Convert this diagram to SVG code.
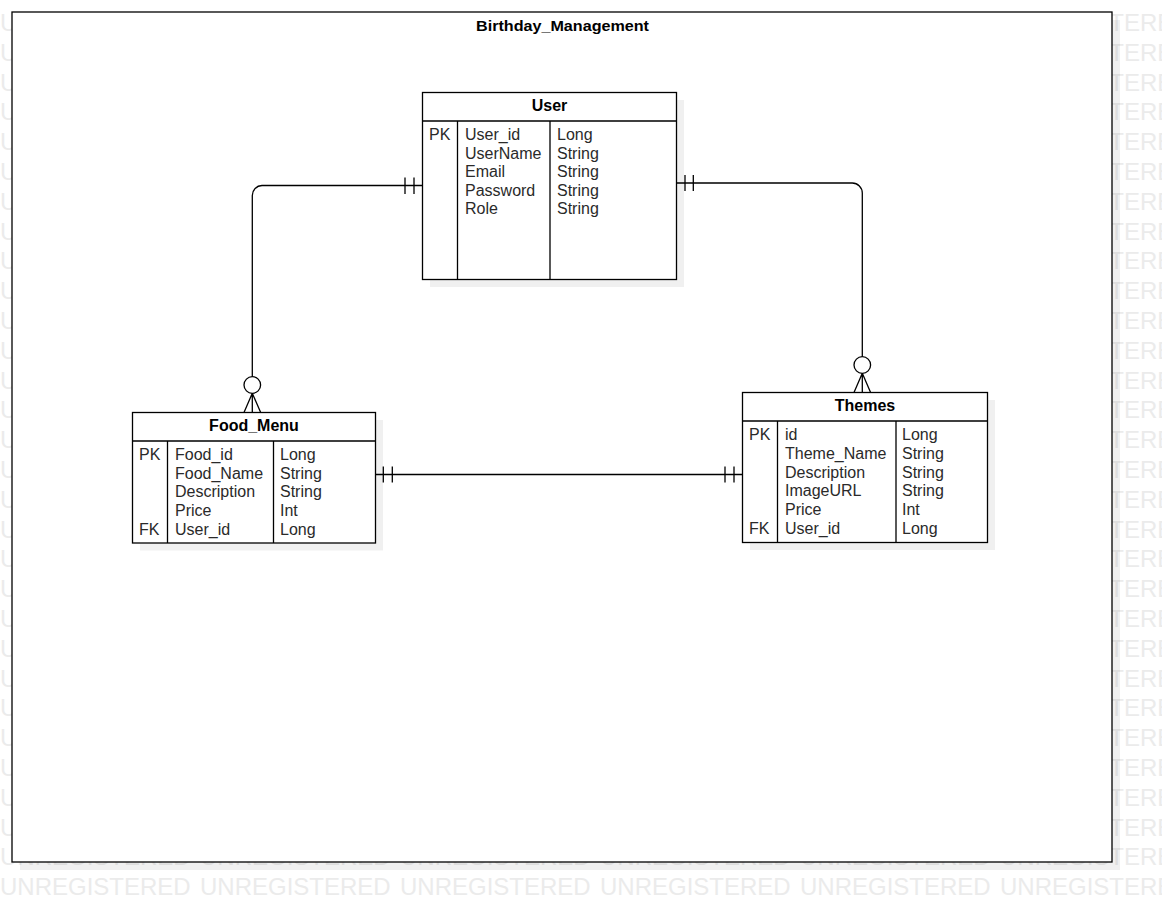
<svg xmlns="http://www.w3.org/2000/svg" xmlns:xlink="http://www.w3.org/1999/xlink" width="1162" height="912" viewBox="0 0 1162 912">
<style>
.wm{font-family:"Liberation Sans",Arial,sans-serif;font-size:24px;fill:#ebebeb}
.shadow{fill:#000;fill-opacity:0.06}
.box{fill:#fff;stroke:#000;stroke-width:1.3}
.ln{stroke:#000;stroke-width:1.3;fill:none}
.hd{font-family:"Liberation Sans",Arial,sans-serif;font-size:16px;font-weight:bold;fill:#000;text-anchor:middle}
.title{font-family:"Liberation Sans",Arial,sans-serif;font-size:14px;font-weight:bold;fill:#000}
.at{font-family:"Liberation Sans",Arial,sans-serif;font-size:16px;fill:#2a2a2a}
.conn{stroke:#000;stroke-width:1.3;fill:none}
.end{stroke:#000;stroke-width:1.3;fill:#fff}
</style>
<defs>
<g id="wmrow"><text class="wm"><tspan x="0">UNREGISTERED</tspan><tspan x="200">UNREGISTERED</tspan><tspan x="400">UNREGISTERED</tspan><tspan x="600">UNREGISTERED</tspan><tspan x="800">UNREGISTERED</tspan><tspan x="1000">UNREGISTERED</tspan></text></g>
</defs>
<rect x="0" y="0" width="1162" height="912" fill="#fff"/>
<g id="watermark">
<use href="#wmrow" y="31"/><use href="#wmrow" y="60.8"/><use href="#wmrow" y="90.6"/><use href="#wmrow" y="120.4"/><use href="#wmrow" y="150.2"/><use href="#wmrow" y="180"/><use href="#wmrow" y="209.8"/><use href="#wmrow" y="239.6"/><use href="#wmrow" y="269.4"/><use href="#wmrow" y="299.2"/><use href="#wmrow" y="329"/><use href="#wmrow" y="358.8"/><use href="#wmrow" y="388.6"/><use href="#wmrow" y="418.4"/><use href="#wmrow" y="448.2"/><use href="#wmrow" y="478"/><use href="#wmrow" y="507.8"/><use href="#wmrow" y="537.6"/><use href="#wmrow" y="567.4"/><use href="#wmrow" y="597.2"/><use href="#wmrow" y="627"/><use href="#wmrow" y="656.8"/><use href="#wmrow" y="686.6"/><use href="#wmrow" y="716.4"/><use href="#wmrow" y="746.2"/><use href="#wmrow" y="776"/><use href="#wmrow" y="805.8"/><use href="#wmrow" y="835.6"/><use href="#wmrow" y="865.4"/><use href="#wmrow" y="895.2"/>
</g>
<g id="frame">
<rect class="shadow" x="20" y="20" width="1100" height="850"/>
<rect class="box" x="12" y="12" width="1100" height="850"/>
<text class="title" x="476" y="31" textLength="173" lengthAdjust="spacingAndGlyphs">Birthday_Management</text>
</g>
<g id="connectors">
<path class="conn" d="M422.5,185.5 H262 A10,10 0 0 0 252.3,195.5 V376.7"/>
<path class="conn" d="M405,177.5 V194 M414,177.5 V194"/>
<circle class="end" cx="252.3" cy="385" r="8.3"/>
<path class="conn" d="M252.3,393.3 L244,412.5 M252.3,393.3 V412.5 M252.3,393.3 L260.7,412.5"/>
<path class="conn" d="M676.5,183 H852.3 A10,10 0 0 1 862.3,193 V356.7"/>
<path class="conn" d="M685,175 V191 M693.3,175 V191"/>
<circle class="end" cx="862.3" cy="365" r="8.3"/>
<path class="conn" d="M862.3,373.3 L854,392.5 M862.3,373.3 V392.5 M862.3,373.3 L870.6,392.5"/>
<path class="conn" d="M375.5,474.5 H742.5"/>
<path class="conn" d="M383.3,466.5 V482.5 M392.3,466.5 V482.5 M725,466.5 V482.5 M734,466.5 V482.5"/>
</g>
<g id="User">
<rect class="shadow" x="430" y="100" width="254" height="187"/>
<rect class="box" x="422.5" y="92.5" width="254" height="187"/>
<path class="ln" d="M422.5,121 H676.5 M457.5,121 V279.5 M550,121 V279.5"/>
<text class="hd" x="549.5" y="111">User</text>
<text class="at" x="429" y="140">PK</text>
<text class="at" x="465" y="140">User_id</text>
<text class="at" x="465" y="158.6">UserName</text>
<text class="at" x="465" y="177.2">Email</text>
<text class="at" x="465" y="195.8">Password</text>
<text class="at" x="465" y="214.4">Role</text>
<text class="at" x="557" y="140">Long</text>
<text class="at" x="557" y="158.6">String</text>
<text class="at" x="557" y="177.2">String</text>
<text class="at" x="557" y="195.8">String</text>
<text class="at" x="557" y="214.4">String</text>
</g>
<g id="Food_Menu">
<rect class="shadow" x="140" y="420" width="243" height="130.5"/>
<rect class="box" x="132.5" y="412.5" width="243" height="130.5"/>
<path class="ln" d="M132.5,441 H375.5 M167.5,441 V543 M273.5,441 V543"/>
<text class="hd" x="254" y="431">Food_Menu</text>
<text class="at" x="139" y="460">PK</text>
<text class="at" x="139" y="534.7">FK</text>
<text class="at" x="175" y="460">Food_id</text>
<text class="at" x="175" y="478.7">Food_Name</text>
<text class="at" x="175" y="497.4">Description</text>
<text class="at" x="175" y="516">Price</text>
<text class="at" x="175" y="534.7">User_id</text>
<text class="at" x="280" y="460">Long</text>
<text class="at" x="280" y="478.7">String</text>
<text class="at" x="280" y="497.4">String</text>
<text class="at" x="280" y="516">Int</text>
<text class="at" x="280" y="534.7">Long</text>
</g>
<g id="Themes">
<rect class="shadow" x="750" y="400" width="245" height="150"/>
<rect class="box" x="742.5" y="392.5" width="245" height="150"/>
<path class="ln" d="M742.5,421 H987.5 M777.5,421 V542.5 M896,421 V542.5"/>
<text class="hd" x="865" y="411">Themes</text>
<text class="at" x="749" y="440">PK</text>
<text class="at" x="749" y="534">FK</text>
<text class="at" x="785" y="440">id</text>
<text class="at" x="785" y="458.8">Theme_Name</text>
<text class="at" x="785" y="477.6">Description</text>
<text class="at" x="785" y="496.4">ImageURL</text>
<text class="at" x="785" y="515.2">Price</text>
<text class="at" x="785" y="534">User_id</text>
<text class="at" x="902" y="440">Long</text>
<text class="at" x="902" y="458.8">String</text>
<text class="at" x="902" y="477.6">String</text>
<text class="at" x="902" y="496.4">String</text>
<text class="at" x="902" y="515.2">Int</text>
<text class="at" x="902" y="534">Long</text>
</g>
</svg>
